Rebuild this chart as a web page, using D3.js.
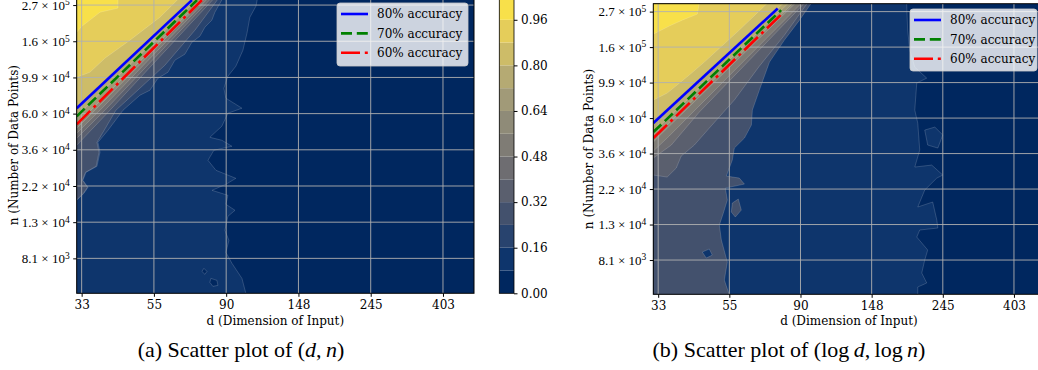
<!DOCTYPE html>
<html>
<head>
<meta charset="utf-8">
<script src="https://cdn.jsdelivr.net/npm/d3@7"></script>
<style>
body { margin: 0; background: #fff; }
svg { display: block; }
text { font-family: "DejaVu Serif", serif; fill: #000; }
</style>
</head>
<body>
<svg id="chart" width="1038" height="370"></svg>
<script>
// contour levels (also the colorbar bands)
var levels = [0, 0.08, 0.16, 0.24, 0.32, 0.40, 0.48, 0.56, 0.64, 0.72, 0.80, 0.88, 0.96, 1.04];
var cbTicks = [0, 0.16, 0.32, 0.48, 0.64, 0.80, 0.96];

// axis ranges (d, n) and tick positions in ln units
var dRange = [32, 500];
var nRange = [5000, 300000];
var xTicks = [3.5, 4, 4.5, 5, 5.5, 6];
var yTicks = [9, 9.5, 10, 10.5, 11, 11.5, 12, 12.5];
var accNames = ["80% accuracy", "70% accuracy", "60% accuracy"];

// (a) boundary of each level; points are [ln d, ln n],
// values >= lv lie above / left of the curve
var edgesA = [
  {lv: 0.08, pts: [[4.637,8.51],[4.609,8.723],[4.540,8.931],[4.498,9.083],[4.519,9.249],[4.491,9.387],[4.512,9.581],[4.561,9.664],[4.498,9.747],[4.512,9.871],[4.402,9.940],[4.498,10.023],[4.567,10.106],[4.429,10.217],[4.374,10.355],[4.415,10.494],[4.540,10.549],[4.470,10.632],[4.387,10.673],[4.470,10.826],[4.512,11.005],[4.609,11.075],[4.498,11.213],[4.484,11.351],[4.512,11.517],[4.567,11.655],[4.616,11.877],[4.644,12.112],[4.664,12.333],[4.706,12.485],[4.719,12.62]]},
  {lv: 0.16, pts: [[3.466,9.802],[3.516,9.899],[3.544,9.982],[3.509,10.079],[3.530,10.189],[3.606,10.272],[3.627,10.466],[3.613,10.604],[3.682,10.770],[3.786,11.047],[3.903,11.254],[3.972,11.323],[4.028,11.489],[4.097,11.572],[4.145,11.738],[4.214,11.821],[4.263,11.987],[4.318,12.070],[4.353,12.195],[4.401,12.292],[4.422,12.402],[4.484,12.62]]},
  {lv: 0.24, pts: [[3.466,9.81],[3.512,9.899],[3.540,9.982],[3.505,10.079],[3.526,10.189],[3.600,10.272],[3.620,10.466],[3.606,10.604],[3.650,10.75],[3.737,11.047],[3.903,11.351],[4.076,11.669],[4.284,12.153],[4.457,12.62]]},
  {lv: 0.32, pts: [[3.466,10.563],[3.696,11.047],[4.429,12.62]]},
  {lv: 0.40, pts: [[3.466,10.660],[3.661,11.047],[4.408,12.62]]},
  {lv: 0.48, pts: [[3.466,10.729],[3.627,11.047],[4.387,12.62]]},
  {lv: 0.56, pts: [[3.466,10.798],[3.592,11.047],[4.367,12.62]]},
  {lv: 0.64, pts: [[3.466,10.853],[4.353,12.62]]},
  {lv: 0.72, pts: [[3.466,10.964],[4.318,12.62]]},
  {lv: 0.80, pts: [[3.466,11.075],[4.285,12.62]]},
  {lv: 0.88, pts: [[3.466,11.503],[3.557,11.572],[3.661,11.766],[3.834,12.015],[4.042,12.333],[4.187,12.62]]},
  {lv: 0.96, pts: [[3.466,12.126],[3.502,12.209],[3.557,12.292],[3.627,12.402],[3.751,12.458],[3.751,12.62]]}
];
var islandsA = [
  {lv: 0, pts: [[4.346,8.862],[4.367,8.820],[4.353,8.779],[4.332,8.820]]},
  {lv: 0, pts: [[4.394,8.723],[4.436,8.696],[4.443,8.627],[4.408,8.613],[4.387,8.668]]}
];
// fitted accuracy lines (80, 70, 60 %)
var linesA = [
  [[3.466,11.075],[4.263,12.568]],
  [[3.466,10.964],[4.298,12.568]],
  [[3.466,10.853],[4.332,12.568]]
];

// (b)
var edgesB = [
  {lv: 0.08, pts: [[5.324,8.51],[5.324,8.620],[5.387,8.676],[5.352,8.817],[5.373,9.000],[5.394,9.141],[5.317,9.324],[5.338,9.423],[5.465,9.451],[5.458,9.563],[5.429,9.817],[5.324,9.747],[5.373,9.986],[5.458,10.155],[5.500,10.197],[5.422,10.338],[5.303,10.310],[5.338,10.549],[5.324,10.930],[5.303,11.113],[5.317,11.493],[5.387,11.563],[5.303,11.718],[5.268,11.958],[5.253,12.240],[5.246,12.62]]},
  {lv: 0.24, pts: [[4.000,8.51],[3.965,8.718],[3.986,8.972],[3.944,9.282],[3.930,9.493],[3.958,9.662],[3.986,9.845],[3.972,10.014],[4.106,10.070],[4.070,10.155],[3.979,10.183],[4.021,10.409],[4.035,10.578],[4.106,10.718],[4.155,10.901],[4.162,11.113],[4.211,11.394],[4.282,11.789],[4.387,12.099],[4.493,12.380],[4.577,12.62]]},
  {lv: 0.32, pts: [[3.466,10.197],[3.563,10.169],[3.627,10.296],[3.662,10.465],[3.754,10.620],[3.859,10.859],[4.035,11.254],[4.211,11.732],[4.387,12.169],[4.549,12.62]]},
  {lv: 0.40, pts: [[3.466,10.437],[3.592,10.620],[3.789,11.085],[4.528,12.62]]},
  {lv: 0.48, pts: [[3.466,10.535],[3.577,10.747],[4.507,12.62]]},
  {lv: 0.56, pts: [[3.466,10.662],[3.507,10.747],[4.465,12.62]]},
  {lv: 0.64, pts: [[3.466,10.718],[4.448,12.62]]},
  {lv: 0.72, pts: [[3.466,10.803],[4.416,12.62]]},
  {lv: 0.80, pts: [[3.466,10.930],[4.381,12.62]]},
  {lv: 0.88, pts: [[3.466,11.254],[3.563,11.352],[3.718,11.606],[3.824,11.789],[4.070,12.240],[4.268,12.62]]},
  {lv: 0.96, pts: [[3.466,12.183],[3.577,12.296],[3.669,12.380],[3.775,12.465],[3.789,12.62]]}
];
var islandsB = [
  {lv: 0.08, pts: [[5.373,10.831],[5.444,10.873],[5.500,10.761],[5.465,10.578],[5.394,10.620]]},
  {lv: 0.08, pts: [[3.810,9.113],[3.859,9.155],[3.880,9.070],[3.838,9.028]]},
  {lv: 0.24, pts: [[4.021,9.803],[4.063,9.859],[4.084,9.704],[4.042,9.606],[4.014,9.676]]}
];
var linesB = [
  [[3.466,10.930],[4.340,12.545]],
  [[3.466,10.803],[4.364,12.521]],
  [[3.466,10.718],[4.380,12.489]]
];

var accStyle = [
  {color: "#0000ff", dash: null},
  {color: "#008000", dash: "11,4.8"},
  {color: "#ff0000", dash: "19,4.8,3,4.8"}
];

var svg = d3.select("#chart");
var defs = svg.append("defs");
var vmax = levels[levels.length - 1];

function bandColor(k) {
  return d3.interpolateCividis((levels[k] + levels[k + 1]) / 2 / vmax);
}
function lvColor(lv) {
  return bandColor(levels.indexOf(lv));
}

function supParts(v) {
  var n = Math.exp(v);
  var e = Math.floor(Math.log10(n));
  return [(n / Math.pow(10, e)).toFixed(1), e];
}

function drawPanel(c) {
  var x = d3.scaleLinear().domain([Math.log(dRange[0]), Math.log(dRange[1])]).range([c.left, c.left + c.w]);
  var y = d3.scaleLinear().domain([Math.log(nRange[0]), Math.log(nRange[1])]).range([c.top + c.h, c.top]);
  var xd = x.domain(), yd = y.domain();
  var line = d3.line().x(function(p) { return x(p[0]); }).y(function(p) { return y(p[1]); });

  defs.append("clipPath").attr("id", c.id)
    .append("rect").attr("x", c.left).attr("y", c.top).attr("width", c.w).attr("height", c.h);
  var g = svg.append("g").attr("clip-path", "url(#" + c.id + ")");

  g.append("rect").attr("x", c.left).attr("y", c.top).attr("width", c.w).attr("height", c.h)
    .attr("fill", bandColor(0));

  // filled bands, painted from low to high
  c.edges.forEach(function(e) {
    var s = e.pts[0], t = e.pts[e.pts.length - 1];
    var poly = e.pts.concat([[t[0], yd[1] + 0.1], [xd[0] - 0.1, yd[1] + 0.1], [xd[0] - 0.1, s[1]]]);
    g.append("path").attr("d", line(poly) + "Z").attr("fill", lvColor(e.lv));
  });
  c.islands.forEach(function(isl) {
    g.append("path").attr("d", line(isl.pts) + "Z").attr("fill", lvColor(isl.lv))
      .attr("stroke", "rgba(255,255,255,0.28)").attr("stroke-width", 0.6);
  });
  // thin contour lines
  c.edges.forEach(function(e) {
    g.append("path").attr("d", line(e.pts)).attr("fill", "none")
      .attr("stroke", "rgba(255,255,255,0.28)").attr("stroke-width", 0.6);
  });

  // grid
  g.selectAll(".gx").data(xTicks).enter().append("line")
    .attr("x1", x).attr("x2", x).attr("y1", c.top).attr("y2", c.top + c.h)
    .attr("stroke", "#b0b0b0").attr("stroke-width", 0.9);
  g.selectAll(".gy").data(yTicks).enter().append("line")
    .attr("y1", y).attr("y2", y).attr("x1", c.left).attr("x2", c.left + c.w)
    .attr("stroke", "#b0b0b0").attr("stroke-width", 0.9);

  // accuracy lines
  c.lines.forEach(function(l, i) {
    g.append("path").attr("d", line(l)).attr("fill", "none")
      .attr("stroke", accStyle[i].color).attr("stroke-width", 2.6)
      .attr("stroke-dasharray", accStyle[i].dash);
  });

  // spines
  svg.append("rect").attr("x", c.left).attr("y", c.top).attr("width", c.w).attr("height", c.h)
    .attr("fill", "none").attr("stroke", "#000").attr("stroke-width", 1);

  // axes
  var ax = svg.append("g").attr("transform", "translate(0," + (c.top + c.h) + ")")
    .call(d3.axisBottom(x).tickValues(xTicks).tickSize(3.5).tickPadding(3.5).tickSizeOuter(0)
      .tickFormat(function(v) { return Math.round(Math.exp(v)); }));
  ax.select(".domain").remove();
  ax.attr("font-family", "DejaVu Serif").attr("font-size", 12);

  var ay = svg.append("g").attr("transform", "translate(" + c.left + ",0)")
    .call(d3.axisLeft(y).tickValues(yTicks).tickSize(3.5).tickPadding(3.5).tickSizeOuter(0)
      .tickFormat(function() { return ""; }));
  ay.select(".domain").remove();
  ay.selectAll(".tick").each(function(v) {
    var p = supParts(v);
    var t = d3.select(this).select("text")
      .style("font-family", "'Liberation Serif', serif").style("font-size", "13px");
    t.text(null);
    t.append("tspan").text(p[0] + " \u00d7 10");
    t.append("tspan").attr("dy", "-0.45em").style("font-size", "9.5px").text(p[1]);
  });

  svg.append("text").attr("x", c.left + c.w / 2).attr("y", 325)
    .attr("text-anchor", "middle").attr("font-size", 12).text("d (Dimension of Input)");
  svg.append("text").attr("transform", "translate(" + c.ylabX + "," + (c.top + c.h / 2) + ") rotate(-90)")
    .attr("text-anchor", "middle").attr("font-size", 12).text("n (Number of Data Points)");

  // legend
  var lg = svg.append("g");
  lg.append("rect").attr("x", c.leg.x).attr("y", c.leg.y).attr("width", c.leg.w).attr("height", c.leg.h)
    .attr("rx", 3).attr("fill", "#fff").attr("fill-opacity", 0.8)
    .attr("stroke", "#ccc").attr("stroke-opacity", 0.8).attr("stroke-width", 1);
  accNames.forEach(function(name, i) {
    var ry = c.leg.y + 11 + i * 19.4;
    lg.append("line").attr("x1", c.leg.x + 4).attr("x2", c.leg.x + 31).attr("y1", ry).attr("y2", ry)
      .attr("stroke", accStyle[i].color).attr("stroke-width", 2.6)
      .attr("stroke-dasharray", accStyle[i].dash);
    lg.append("text").attr("x", c.leg.x + 40).attr("y", ry).attr("dy", "0.35em")
      .attr("font-size", 12).text(name);
  });

  // caption
  var cap = svg.append("text").attr("x", c.capX).attr("y", 357).attr("text-anchor", "middle")
    .style("font-family", "'Liberation Serif', 'Times New Roman', serif").attr("font-size", 22);
  c.caption.forEach(function(part) {
    cap.append("tspan").attr("font-style", part[1] ? "italic" : null).text(part[0]);
  });
}

drawPanel({
  id: "clipA", left: 76.7, top: -3, w: 397.3, h: 296.3, ylabX: 17.5,
  edges: edgesA, islands: islandsA, lines: linesA,
  leg: {x: 337, y: 3, w: 131, h: 63}, capX: 241,
  caption: [["(a) Scatter plot of ("], ["d", true], [",\u2009"], ["n", true], [")"]]
});
drawPanel({
  id: "clipB", left: 653.3, top: 3.7, w: 391.2, h: 290.6, ylabX: 593,
  edges: edgesB, islands: islandsB, lines: linesB,
  leg: {x: 910, y: 9, w: 127, h: 62}, capX: 789,
  caption: [["(b) Scatter plot of (log\u2009"], ["d", true], [",\u2009log\u2009"], ["n", true], [")"]]
});

// colorbar for (a)
var cy = d3.scaleLinear().domain([0, vmax]).range([293.3, -3]);
var cb = svg.append("g");
cb.selectAll("rect").data(levels.slice(0, -1)).enter().append("rect")
  .attr("x", 499.3).attr("width", 14.7)
  .attr("y", function(d, i) { return cy(levels[i + 1]); })
  .attr("height", function(d, i) { return cy(levels[i]) - cy(levels[i + 1]); })
  .attr("fill", function(d, i) { return bandColor(i); });
cb.append("rect").attr("x", 499.3).attr("y", -3).attr("width", 14.7).attr("height", 296.3)
  .attr("fill", "none").attr("stroke", "#000").attr("stroke-width", 0.8);
var cax = svg.append("g").attr("transform", "translate(514,0)")
  .call(d3.axisRight(cy).tickValues(cbTicks).tickSize(3.5).tickPadding(3.5).tickSizeOuter(0)
    .tickFormat(d3.format(".2f")));
cax.select(".domain").remove();
cax.attr("font-family", "DejaVu Serif").attr("font-size", 12);
</script>
</body>
</html>
